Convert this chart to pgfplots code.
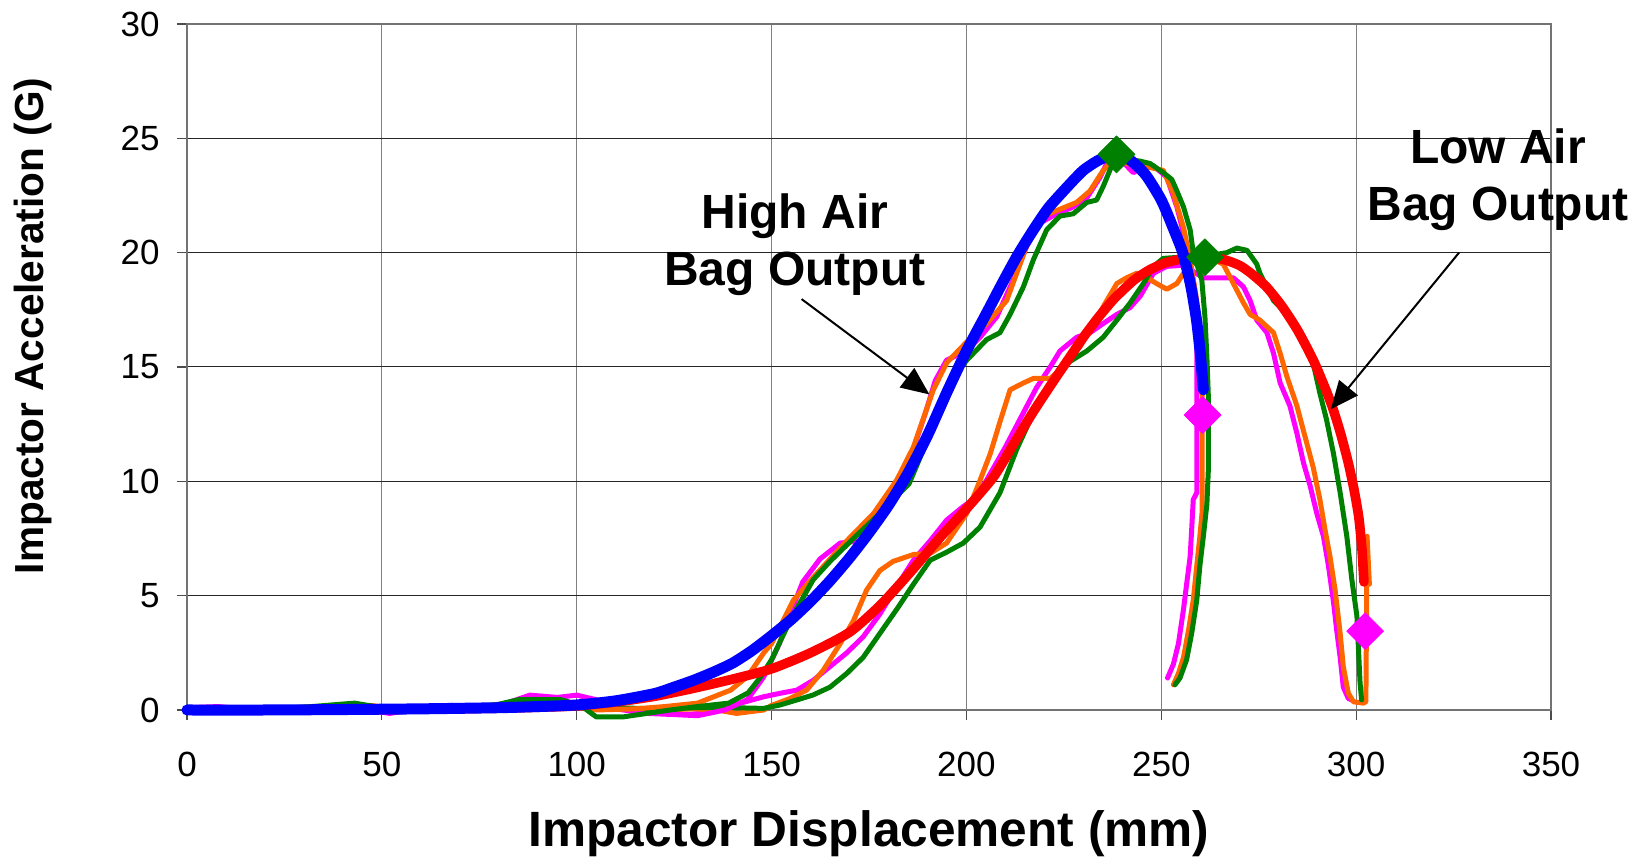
\documentclass[border=0pt]{standalone}
\usepackage{fontspec}
\setmainfont{Liberation Sans}
\usepackage{pgfplots}
\pgfplotsset{compat=1.18}
\usetikzlibrary{arrows.meta}
\definecolor{tgreen}{RGB}{0,128,0}
\definecolor{torange}{RGB}{255,102,0}
\definecolor{tmag}{RGB}{255,0,255}

\begin{document}
\begin{tikzpicture}
\begin{axis}[
  scale only axis, width=682pt, height=343pt,
  xmin=0, xmax=350, ymin=0, ymax=30,
  xtick={0,50,...,350}, ytick={0,5,...,30},
  grid=major,
  x grid style={black!50, line width=0.5pt},
  y grid style={black!85, line width=0.5pt},
  axis line style={black!55, line width=1pt},
  tick style={black!70, line width=0.6pt},
  tick align=outside, major tick length=5pt,
  xtick pos=bottom, ytick pos=left,
  /pgf/number format/assume math mode=true,
  ticklabel style={font=\fontsize{17.5}{20}\selectfont},
  xticklabel style={inner sep=0pt, anchor=north, yshift=-16pt},
  yticklabel style={inner sep=0pt, anchor=east, xshift=-8.5pt},
  xlabel={Impactor Displacement (mm)},
  ylabel={Impactor Acceleration (G)},
  xlabel style={font=\fontsize{24.8}{28}\selectfont\bfseries, at={(axis description cs:0.5,-0.1808)}, anchor=center},
  ylabel style={font=\fontsize{20.3}{24}\selectfont\bfseries, at={(axis description cs:-0.1129,0.5598)}, anchor=center},
  clip=false,
  every axis plot/.append style={line join=round, line cap=round},
]
% low air bag tests
\addplot[tmag, line width=2.5pt] coordinates {(0,0) (10,0.05) (20,0) (28,0.1) (40,0) (50,-0.1) (60,0.05) (70,0.1) (80,0.15) (90,0.2) (100,0.2) (110,0.1) (120,0.0) (128,-0.2) (135,-0.1) (142,0.3) (148,0.58) (152.2,0.73) (156.5,0.87) (160.7,1.3) (165,1.9) (169.3,2.5) (173.5,3.2) (177.8,4.2) (182.1,5.4) (186.4,6.55) (190.7,7.4) (194.9,8.3) (199.2,8.9) (201.8,9.2) (205,10.0) (210,11.5) (214,12.8) (218,14.1) (221.5,15.0) (224,15.7) (228.3,16.3) (231.7,16.5) (235.1,16.9) (238.6,17.3) (242,17.6) (244.6,18.1) (248,19.1) (251.4,19.4) (255.7,19.45) (258,19.2) (260.8,18.9) (268.5,18.9) (271.1,18.5) (272.8,17.9) (274.5,17.05) (277.1,16.5) (278.8,15.6) (280.5,14.3) (283,13.3) (284.8,12.1) (286.5,10.8) (288.2,9.8) (289.9,8.6) (291.6,7.6) (292.9,6.3) (294.2,4.7) (295,3.5) (295.9,2.3) (296.7,1.0) (298,0.5) (298.9,0.44)};
\addplot[torange, line width=2.5pt] coordinates {(0,0) (20,0.05) (35,0.1) (50,-0.1) (60,0.05) (80,0.15) (100,0.1) (110,0.05) (120,0.0) (130,0.05) (136,0) (141,-0.15) (148,0) (150,0.2) (154.7,0.5) (159,0.87) (163.3,1.75) (167.6,2.9) (171,3.9) (174.4,5.25) (177.8,6.1) (181.2,6.5) (186.4,6.8) (190.7,6.85) (194.9,7.3) (200.1,8.6) (203.5,10.05) (206.1,11.2) (208.6,12.6) (211.2,14.0) (214.6,14.3) (217.2,14.5) (221.5,14.5) (224.9,15.0) (229.2,15.9) (232.6,16.9) (236,17.9) (238.6,18.65) (241.1,18.9) (243.7,19.1) (246.3,18.9) (248.8,18.65) (251.4,18.4) (254,18.65) (255.7,19.1) (258,19.6) (262,19.8) (265.9,19.5) (268.5,18.65) (271.1,17.8) (272.8,17.3) (275.3,17.05) (278.8,16.5) (280.5,15.6) (282.2,14.6) (284.8,13.3) (286.5,12.2) (289,10.6) (290.7,9.2) (292,7.9) (293.3,6.7) (294.6,5.25) (295.9,3.35) (296.7,1.9) (298,0.73) (299.3,0.36) (301.9,0.3) (302.5,0.36) (302.8,7.6) (303.4,5.5)};
\addplot[tgreen, line width=2.5pt] coordinates {(0,0) (15,0.05) (30,0) (45,0.05) (60,0.1) (75,0.05) (90,0.15) (100,0.2) (110,0.1) (120,0.05) (130,0.1) (140,0.1) (147.9,0.07) (152.2,0.22) (156.5,0.44) (160.7,0.66) (165,1.0) (169.3,1.6) (173.5,2.3) (177.8,3.35) (182.1,4.4) (186.4,5.5) (190.7,6.55) (194.9,6.9) (199.2,7.3) (203.5,8.0) (208.6,9.5) (212.9,11.4) (217.2,13.0) (221.5,14.3) (225.7,15.15) (230.9,15.7) (235.1,16.3) (238.6,17.05) (242,17.8) (245.4,18.65) (248,19.4) (250.5,19.75) (254.8,19.8) (260,19.8) (266.8,20.0) (269.4,20.2) (272,20.1) (274.5,19.5) (275.3,19.1) (278.8,17.9) (283,17.2) (286.5,16.2) (289,15.15) (290.7,13.85) (292.4,12.7) (294.2,11.2) (295.9,9.5) (297.6,7.6) (298.9,5.7) (300.2,4.1) (301,1.2) (301.4,0.44)};
% high air bag tests
\addplot[tmag, line width=2.5pt] coordinates {(0,0.1) (8,0.15) (15,0.05) (25,0) (35,0.1) (45,0.05) (52,-0.15) (58,0) (68,0.2) (75,0.1) (82,0.3) (88,0.65) (95,0.55) (100,0.65) (105,0.45) (110,0.05) (118,-0.15) (125,-0.2) (131,-0.25) (138,0) (143.8,0.45) (148,1.45) (152,2.9) (155,4.3) (158,5.6) (162.4,6.6) (167.6,7.3) (173,7.4) (177.8,8.65) (184.4,10.4) (189.5,13.0) (192,14.4) (194.9,15.3) (200,15.7) (203.5,16.3) (207.8,17.2) (212,18.8) (215.5,20.3) (218.9,21.3) (223.2,21.7) (227.4,22.0) (230.9,22.4) (234.3,23.3) (236,23.9) (238.5,24.2) (241.1,23.8) (242.8,23.5) (245,23.7) (248,23.8) (251.4,23.3) (254,22.0) (256.5,20.3) (258.2,18.8) (259.1,17) (259.1,9.5) (258.2,9.2) (257.8,7.9) (257.4,6.7) (256.5,5.5) (255.7,4.4) (254.4,2.9) (253.1,2.0) (251.6,1.4)};
\addplot[torange, line width=2.5pt] coordinates {(0,0) (15,0.05) (30,0.1) (40,0.05) (47,0.2) (55,0.05) (65,0.1) (80,0.2) (90,0.3) (100,0.15) (105,0) (115,0.05) (122.6,0.15) (131,0.3) (139.5,0.87) (143.8,1.46) (148,2.5) (150,2.9) (155.6,4.8) (160.7,5.8) (169.3,7.4) (176.2,8.6) (182.1,10.05) (186.4,11.5) (191.5,14.0) (195,15.2) (200.1,16.1) (205.2,16.9) (210.3,17.9) (215.5,20.3) (219.7,21.6) (224,21.9) (228.3,22.2) (231.7,22.7) (235.1,23.6) (238,24.1) (241,23.9) (245,23.8) (250.5,23.6) (253.1,22.6) (255.7,21.1) (257.4,19.7) (259,18) (260,16) (260.5,14) (260.5,8.7) (259.9,7.6) (259.1,6.3) (258.2,4.8) (257,3.5) (255.7,2.3) (254.4,1.6) (253.1,1.1)};
\addplot[tgreen, line width=2.5pt] coordinates {(0,0.05) (12,0) (22,0.05) (32,0.15) (43,0.3) (50,0.1) (60,0.05) (72,0.1) (80,0.25) (85,0.45) (96,0.45) (101,0.2) (105,-0.3) (112,-0.3) (118,-0.15) (124,0) (131,0.15) (139,0.3) (144,0.75) (147,1.4) (150,2.2) (155,4.0) (160.7,5.7) (165,6.5) (171,7.5) (177.8,8.6) (185.3,9.9) (191.2,12.3) (195.8,14.4) (200.1,15.3) (205.2,16.2) (208.6,16.5) (211.2,17.3) (214.6,18.5) (217.2,19.7) (220.6,21.0) (224,21.6) (227.4,21.7) (230.9,22.2) (233.4,22.3) (235.1,22.9) (237.3,23.8) (238.5,24.3) (241,24.1) (244.6,24.0) (247.1,23.9) (250.5,23.5) (252.7,23.2) (254,22.7) (255.7,22.0) (257.4,21.0) (258.2,20.0) (260.4,18.8) (261.2,17.2) (261.7,15.45) (262.1,13.6) (262.1,10.6) (261.7,9) (260.8,7.6) (259.9,6.3) (259.1,4.8) (257.8,3.35) (256.5,2.2) (254.8,1.4) (253.5,1.1)};
% models
\addplot[red, line width=4.8pt, smooth, tension=0.4] coordinates {(0,0) (20,0) (40,0.02) (60,0.04) (80,0.08) (90,0.12) (100,0.18) (110,0.35) (120,0.6) (130,0.95) (140,1.35) (150,1.8) (160,2.5) (170,3.4) (178,4.6) (186,6.1) (193,7.5) (200,8.8) (207,10.2) (212,11.6) (217,13.0) (222,14.3) (226,15.3) (230,16.3) (234,17.2) (238,18.0) (243,18.8) (247,19.25) (251,19.55) (256,19.75) (261,19.8) (266,19.7) (270,19.45) (273,19.1) (277,18.5) (281,17.65) (285,16.6) (289,15.3) (292,14.1) (294,13.2) (296,12.1) (298,10.8) (299.5,9.6) (300.7,8.4) (301.5,7.0) (302,5.6)};
\addplot[blue, line width=5.5pt, smooth, tension=0.4] coordinates {(0,0) (20,0) (40,0.02) (60,0.05) (80,0.1) (90,0.15) (100,0.22) (110,0.4) (120,0.72) (125,1.0) (130,1.3) (135,1.65) (140,2.05) (145,2.6) (150,3.25) (155,3.95) (160,4.75) (165,5.65) (170,6.65) (175,7.75) (180,8.95) (185,10.35) (190,12.0) (195,13.9) (200,15.7) (205,17.3) (209,18.6) (213,19.85) (217,20.95) (221,21.95) (226,22.9) (230,23.6) (234,24.05) (238,24.3) (242,24.05) (246,23.4) (250,22.3) (253,21.1) (255.5,20.0) (257.5,18.6) (259,17.1) (260,15.6) (260.8,14.0)};
% peak and end markers
\addplot[only marks, mark=square*, mark size=6.5pt, mark options={rotate=45, fill=tgreen, draw=tgreen}] coordinates {(238.5,24.3) (261.2,19.8)};
\addplot[only marks, mark=square*, mark size=6.5pt, mark options={rotate=45, fill=tmag, draw=tmag}] coordinates {(260.6,12.9) (302.3,3.45)};
% annotations
\node[align=center, font=\fontsize{24}{28.35}\selectfont\bfseries] at (axis cs:156,20.36) {High Air\\Bag Output};
\node[align=center, font=\fontsize{24}{28.35}\selectfont\bfseries] at (axis cs:336.4,23.2) {Low Air\\Bag Output};
\draw[line width=1pt, -{Triangle[length=14pt, width=12pt]}] (axis cs:157.7,17.97) -- (axis cs:190.5,13.8);
\draw[line width=1pt, -{Triangle[length=14pt, width=12pt]}] (axis cs:326.4,20.0) -- (axis cs:293.5,13.15);
\end{axis}
\pgfresetboundingbox
\path[use as bounding box] (-93.5pt,-75.5pt) rectangle (731pt,355pt);
\end{tikzpicture}
\end{document}
